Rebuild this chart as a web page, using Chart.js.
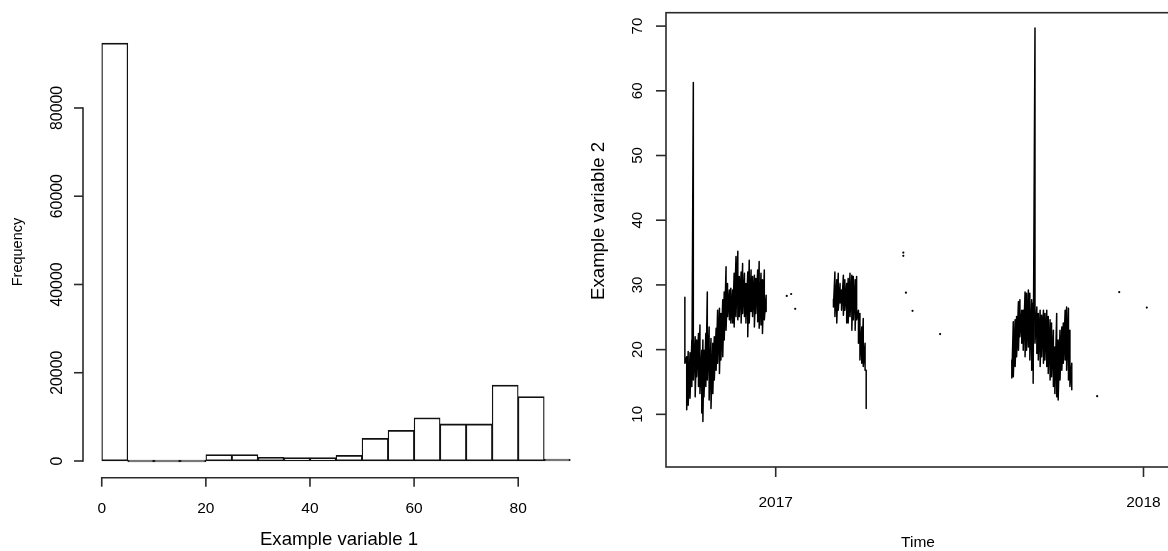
<!DOCTYPE html>
<html><head><meta charset="utf-8">
<script src="https://cdn.jsdelivr.net/npm/chart.js@4.4.1/dist/chart.umd.min.js"></script>
<style>
html,body{margin:0;padding:0;background:#fff;overflow:hidden;width:1168px;height:551px;}
#c1{position:absolute;left:0;top:0;}
#c2{position:absolute;left:580px;top:0;}
</style></head><body>
<canvas id="c1" width="592" height="551"></canvas>
<canvas id="c2" width="592" height="551"></canvas>
<script>
// ---------- Left panel: histogram of "Example variable 1" ----------
const histBinStart = [0, 5, 10, 15, 20, 25, 30, 35, 40, 45, 50, 55, 60, 65, 70, 75, 80, 85];
const histBinWidth = 5;
const histCounts   = [94700, 0, 0, 0, 1450, 1450, 850, 750, 750, 1300, 5150, 6950, 9800, 8400, 8400, 17200, 14600, 300];
const histXTicks = [0, 20, 40, 60, 80];
const histYTicks = [0, 20000, 40000, 60000, 80000];

// ---------- Right panel: time series of "Example variable 2" ----------
// each column: time (decimal year), upper and lower value of the dense hourly trace
const seg1Time = [2016.753,2016.758,2016.762,2016.767,2016.772,2016.776,2016.781,2016.785,2016.790,2016.794,
                  2016.799,2016.802,2016.805,2016.810,2016.814,2016.819,2016.824,2016.829,2016.833,2016.838,
                  2016.842,2016.847,2016.851,2016.856,2016.860,2016.865,2016.869,2016.874,2016.878,2016.883,
                  2016.887,2016.892,2016.897,2016.901,2016.906,2016.910,2016.915,2016.919,2016.924,2016.928,
                  2016.933,2016.937,2016.942,2016.946,2016.951,2016.955,2016.960,2016.964,2016.969,2016.974];
const seg1High = [28.1,18.9,19.7,19.5,21.5,61.3,22.0,21.5,22.5,23.8,
                  19.9,21.5,19.9,22.5,28.9,23.5,21.7,21.0,22.0,23.3,
                  26.1,26.4,25.6,27.7,28.9,32.8,30.2,29.2,29.5,29.2,
                  31.8,34.4,35.2,31.3,32.0,33.3,31.8,30.2,32.0,33.8,
                  32.3,31.3,31.5,31.0,32.3,33.6,31.8,30.8,32.3,28.4];
const seg1Low  = [17.9,10.7,11.4,12.5,14.3,15.3,12.7,15.8,14.3,13.2,
                  10.2,8.9,12.7,14.3,15.3,12.2,10.9,13.2,15.3,16.8,
                  17.9,16.3,18.4,18.9,21.5,23.0,25.1,24.6,24.1,24.1,
                  23.5,25.1,24.6,25.1,24.1,25.6,25.1,24.1,22.0,24.1,
                  25.9,25.1,23.5,25.6,24.3,23.3,23.8,22.5,24.6,25.9];

const seg2Time = [2017.157,2017.161,2017.166,2017.170,2017.175,2017.179,2017.184,2017.188,2017.193,2017.197,
                  2017.202,2017.207,2017.211,2017.216,2017.220,2017.225,2017.229,2017.234,2017.238,2017.243,2017.246];
const seg2High = [27.8,32.0,30.8,31.8,30.2,29.2,31.5,30.8,30.2,31.0,31.8,31.5,31.3,30.8,31.3,26.1,25.6,23.5,24.8,21.0,16.8];
const seg2Low  = [26.6,25.1,24.1,26.1,27.2,26.1,25.3,26.1,24.1,24.1,25.1,23.0,24.6,23.0,24.6,21.0,18.4,17.9,17.4,16.8,10.9];

const seg3Time = [2017.642,2017.646,2017.651,2017.655,2017.660,2017.664,2017.669,2017.673,2017.678,2017.682,
                  2017.687,2017.691,2017.696,2017.700,2017.705,2017.710,2017.714,2017.719,2017.723,2017.728,
                  2017.732,2017.737,2017.741,2017.746,2017.750,2017.755,2017.759,2017.764,2017.768,2017.773,
                  2017.778,2017.782,2017.787,2017.791,2017.796,2017.800,2017.805];
const seg3High = [18.4,24.3,24.6,25.1,27.4,27.7,26.1,26.1,28.9,28.7,
                  29.2,28.7,27.7,27.2,69.7,26.6,25.6,26.1,25.3,26.1,
                  25.6,26.1,25.1,24.6,24.1,23.0,20.4,25.6,21.5,23.0,
                  23.5,24.1,26.1,26.6,26.4,23.0,17.9];
const seg3Low  = [15.6,15.8,17.4,18.9,19.9,22.0,21.0,19.9,18.9,19.9,
                  20.4,18.4,16.8,14.8,21.0,19.4,18.4,17.4,18.9,17.9,
                  18.4,17.4,16.3,15.3,15.8,14.3,13.2,12.7,12.2,15.3,
                  16.8,17.9,18.4,16.8,15.3,14.3,13.8];

const isoTime  = [2017.030,2017.042,2017.053,2017.347,2017.347,2017.354,2017.372,2017.447,2017.874,2017.934,2018.009];
const isoValue = [28.3,28.6,26.3,35.0,34.5,28.8,26.0,22.4,12.8,28.9,26.5];

const tsXTicks = [2017, 2018];
const tsYTicks = [10, 20, 30, 40, 50, 60, 70];

// ---------- styling ----------
const FONT = '"Liberation Sans", Arial, Helvetica, sans-serif';
const AXIS_COLOR = '#2a2a2a';
const TEXT_COLOR = '#000';

// R-style axes drawn through the chart's own scales
const rAxes = {
  id: 'raxes',
  afterDraw(chart, args, o) {
    const ctx = chart.ctx, xs = chart.scales.x, ys = chart.scales.y, ca = chart.chartArea;
    ctx.save();
    ctx.strokeStyle = AXIS_COLOR; ctx.lineWidth = o.lineWidth; ctx.fillStyle = TEXT_COLOR;
    ctx.lineCap = 'square';
    const seg = (x1, y1, x2, y2) => { ctx.beginPath(); ctx.moveTo(x1, y1); ctx.lineTo(x2, y2); ctx.stroke(); };
    if (o.box) {
      ctx.strokeRect(ca.left, ca.top, ca.right - ca.left, ca.bottom - ca.top);
    } else {
      seg(ca.left, ys.getPixelForValue(o.yTicks[0]), ca.left, ys.getPixelForValue(o.yTicks[o.yTicks.length - 1]));
      seg(xs.getPixelForValue(o.xTicks[0]), ca.bottom, xs.getPixelForValue(o.xTicks[o.xTicks.length - 1]), ca.bottom);
    }
    ctx.lineCap = 'butt';
    // y ticks + rotated labels
    ctx.font = o.yTickFont + 'px ' + FONT;
    ctx.textAlign = 'center'; ctx.textBaseline = 'alphabetic';
    o.yTicks.forEach(v => {
      const py = ys.getPixelForValue(v);
      seg(ca.left - o.tickLen, py, ca.left, py);
      ctx.save(); ctx.translate(ca.left - o.yLabelGap, py); ctx.rotate(-Math.PI / 2);
      ctx.fillText(String(v), 0, 0); ctx.restore();
    });
    // x ticks + labels
    ctx.font = o.xTickFont + 'px ' + FONT;
    o.xTicks.forEach(v => {
      const px = xs.getPixelForValue(v);
      seg(px, ca.bottom, px, ca.bottom + o.tickLen);
      ctx.fillText(String(v), px, ca.bottom + o.xLabelGap);
    });
    // titles
    ctx.font = o.xTitleFont + 'px ' + FONT;
    ctx.fillText(o.xTitle, (ca.left + ca.right) / 2 + o.xTitleShift, ca.bottom + o.xTitleGap);
    ctx.font = o.yTitleFont + 'px ' + FONT;
    ctx.save(); ctx.translate(o.yTitleX, (ca.top + ca.bottom) / 2 + o.yTitleShift); ctx.rotate(-Math.PI / 2);
    ctx.fillText(o.yTitle, 0, 0); ctx.restore();
    ctx.restore();
  }
};

// ---------- left chart ----------
const histMax = Math.max(...histCounts);
new Chart(document.getElementById('c1'), {
  type: 'bar',
  data: {
    datasets: [{
      data: histBinStart.map((s, i) => ({ x: s + histBinWidth / 2, y: histCounts[i] })),
      backgroundColor: '#fff', borderColor: '#111',
      borderWidth: { left: 1.3, right: 1.3, top: 1.8, bottom: 1.8 },
      borderSkipped: false, barPercentage: 1, categoryPercentage: 1, minBarLength: 2
    }]
  },
  options: {
    responsive: false, animation: false, devicePixelRatio: 1,
    layout: { padding: { left: 83, right: 3, top: 26.4, bottom: 73.3 }, autoPadding: false },
    scales: {
      x: { type: 'linear', offset: false, min: -3.6, max: 93.6, display: false,
           grid: { offset: false }, ticks: { includeBounds: false, stepSize: 20 } },
      y: { type: 'linear', min: -0.04 * histMax, max: 1.04 * histMax, display: false }
    },
    plugins: {
      legend: { display: false }, tooltip: { enabled: false },
      raxes: {
        box: false, lineWidth: 1.6, tickLen: 9,
        xTicks: histXTicks, yTicks: histYTicks,
        yTickFont: 15.8, xTickFont: 15.5, yLabelGap: 21.3, xLabelGap: 34.8,
        xTitle: 'Example variable 1', xTitleFont: 18.6, xTitleGap: 67.3, xTitleShift: 3,
        yTitle: 'Frequency', yTitleFont: 14.5, yTitleX: 22, yTitleShift: 0
      }
    }
  },
  plugins: [rAxes]
});

// ---------- right chart ----------
function columns(times, highs, lows) {
  const pts = [];
  times.forEach((t, i) => { pts.push({ x: t, y: highs[i] }); pts.push({ x: t, y: lows[i] }); });
  return pts;
}
const lineStyle = { showLine: true, borderColor: '#000', borderWidth: 1.5, pointRadius: 0,
                    borderJoinStyle: 'round', borderCapStyle: 'round', tension: 0 };
new Chart(document.getElementById('c2'), {
  type: 'scatter',
  data: {
    datasets: [
      Object.assign({ data: columns(seg1Time, seg1High, seg1Low) }, lineStyle),
      Object.assign({ data: columns(seg2Time, seg2High, seg2Low) }, lineStyle),
      Object.assign({ data: columns(seg3Time, seg3High, seg3Low) }, lineStyle),
      { data: isoTime.map((t, i) => ({ x: t, y: isoValue[i] })), showLine: false,
        pointRadius: 1.1, pointBorderWidth: 0, backgroundColor: '#000', borderColor: '#000' }
    ]
  },
  options: {
    responsive: false, animation: false, devicePixelRatio: 1,
    layout: { padding: { left: 86, right: 2, top: 12.7, bottom: 84 }, autoPadding: false },
    scales: {
      x: { type: 'linear', min: 2016.7017, max: 2018.0721, display: false },
      y: { type: 'linear', min: 1.86, max: 72.07, display: false }
    },
    plugins: {
      legend: { display: false }, tooltip: { enabled: false },
      raxes: {
        box: true, lineWidth: 1.6, tickLen: 10,
        xTicks: tsXTicks, yTicks: tsYTicks,
        yTickFont: 15, xTickFont: 15.5, yLabelGap: 24.3, xLabelGap: 40,
        xTitle: 'Time', xTitleFont: 15.5, xTitleGap: 79.5, xTitleShift: 0,
        yTitle: 'Example variable 2', yTitleFont: 18.6, yTitleX: 23.5, yTitleShift: -19
      }
    }
  },
  plugins: [rAxes]
});
</script>
</body></html>
